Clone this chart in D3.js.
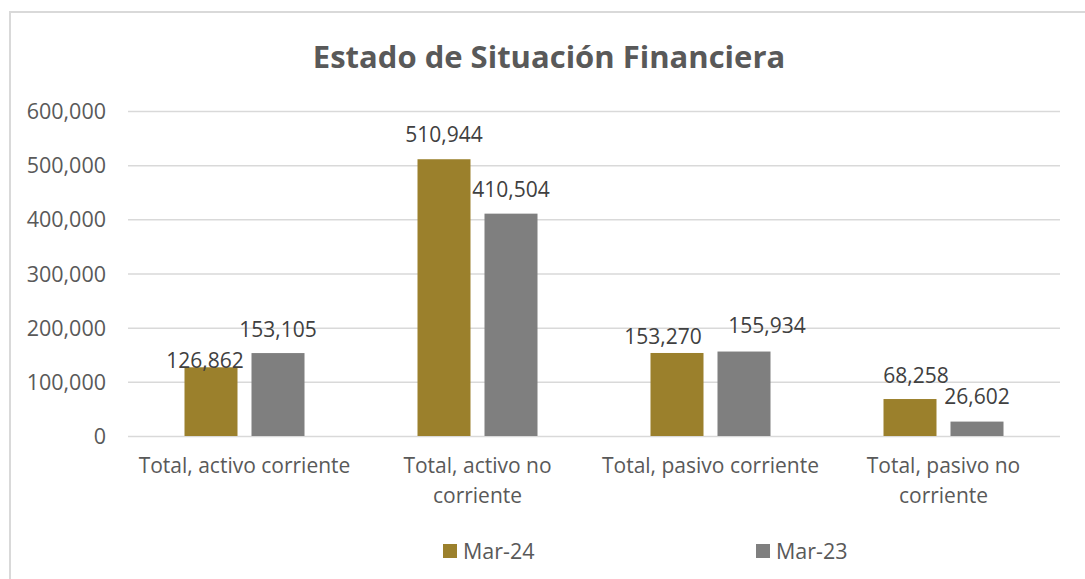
<!DOCTYPE html>
<html>
<head>
<meta charset="utf-8">
<script src="https://cdn.jsdelivr.net/npm/d3@7"></script>
<style>
  html, body { margin: 0; padding: 0; background: #ffffff; }
  svg { display: block; }
</style>
</head>
<body>
<svg id="chart" width="1085" height="579"></svg>
<script>
// ---- data ----
const categories = [
  "Total, activo corriente",
  "Total, activo no corriente",
  "Total, pasivo corriente",
  "Total, pasivo no corriente"
];
const seriesNames = ["Mar-24", "Mar-23"];
const mar24 = [126862, 510944, 153270, 68258];
const mar23 = [153105, 410504, 155934, 26602];
const yTicks = [0, 100000, 200000, 300000, 400000, 500000, 600000];
const chartTitle = "Estado de Situación Financiera";

// ---- styling / layout ----
const colors = ["#9B802C", "#7F7F7F"];
const textColor = "#595959";
const labelColor = "#404040";
const gridColor = "#D9D9D9";
const font = "'Open Sans', 'Liberation Sans', sans-serif";
// label nudges (Excel-style collision placement), [series][category] -> [dx, dy]
const labelNudge = [
  [[-6, 18], [0, 0], [-14, 8], [6, 1]],
  [[0, 1], [0, 0], [23, -2], [0, -1]]
];

const svg = d3.select("#chart");
const plot = { left: 128, right: 1060, top: 111, bottom: 436 };

// border
svg.append("rect")
  .attr("x", 10).attr("y", 12)
  .attr("width", 1100).attr("height", 600)
  .attr("fill", "#ffffff")
  .attr("stroke", gridColor).attr("stroke-width", 2);

const x0 = d3.scaleBand().domain(categories).range([plot.left, plot.right]).padding(0);
const groupW = 120;
const x1 = d3.scaleBand().domain(seriesNames).range([0, groupW]).paddingInner(14 / 67).paddingOuter(0);
const y = d3.scaleLinear().domain([0, 600000]).range([plot.bottom, plot.top]);

// title
svg.append("text")
  .attr("x", 549).attr("y", 68)
  .attr("text-anchor", "middle")
  .attr("font-family", font).attr("font-weight", "bold")
  .attr("font-size", 31).attr("fill", textColor)
  .text(chartTitle);

// y axis
const yAxis = d3.axisLeft(y).tickValues(yTicks).tickSize(-(plot.right - plot.left))
  .tickPadding(22).tickFormat(d3.format(","));
const gy = svg.append("g").attr("transform", `translate(${plot.left},0)`).call(yAxis);
gy.select(".domain").remove();
gy.selectAll(".tick line").attr("stroke", gridColor).attr("stroke-width", 1.5);
gy.selectAll(".tick text")
  .attr("font-family", font).attr("font-size", 21.5).attr("fill", textColor)
  .attr("dy", "0.35em");

// x axis labels
const xAxis = d3.axisBottom(x0).tickSize(0).tickPadding(22);
const gx = svg.append("g").attr("transform", `translate(0,${plot.bottom})`).call(xAxis);
gx.select(".domain").remove();
gx.selectAll(".tick text")
  .attr("font-family", font).attr("font-size", 21).attr("fill", textColor)
  .call(wrap, 225);

function wrap(sel, width) {
  sel.each(function () {
    const t = d3.select(this);
    const words = t.text().split(/\s+/);
    const yy = t.attr("y");
    t.text(null);
    let line = [];
    let lineNo = 0;
    let tspan = t.append("tspan").attr("x", 0).attr("y", yy).attr("dy", "0.71em");
    for (const w of words) {
      line.push(w);
      tspan.text(line.join(" "));
      if (tspan.node().getComputedTextLength() > width && line.length > 1) {
        line.pop();
        tspan.text(line.join(" "));
        line = [w];
        lineNo++;
        tspan = t.append("tspan").attr("x", 0).attr("y", yy)
          .attr("dy", (0.71 + lineNo * 1.43) + "em").text(w);
      }
    }
  });
}

// bars
const seriesData = [mar24, mar23];
const groups = svg.append("g").selectAll("g")
  .data(categories).join("g")
  .attr("transform", d => `translate(${x0(d) + (x0.bandwidth() - groupW) / 2},0)`);

groups.selectAll("rect")
  .data((c, ci) => seriesNames.map((s, si) => ({ s, si, ci, v: seriesData[si][ci] })))
  .join("rect")
  .attr("x", d => x1(d.s))
  .attr("width", x1.bandwidth())
  .attr("y", d => y(d.v))
  .attr("height", d => y(0) - y(d.v))
  .attr("fill", d => colors[d.si]);

groups.selectAll("text.lbl")
  .data((c, ci) => seriesNames.map((s, si) => ({ s, si, ci, v: seriesData[si][ci] })))
  .join("text")
  .attr("class", "lbl")
  .attr("x", d => x1(d.s) + x1.bandwidth() / 2 + labelNudge[d.si][d.ci][0])
  .attr("y", d => y(d.v) - 17 + labelNudge[d.si][d.ci][1])
  .attr("text-anchor", "middle")
  .attr("font-family", font).attr("font-size", 21).attr("fill", labelColor)
  .text(d => d3.format(",")(d.v));

// legend
const legend = svg.append("g").selectAll("g")
  .data(seriesNames).join("g")
  .attr("transform", (d, i) => `translate(${443 + i * 313},544)`);
legend.append("rect").attr("width", 14).attr("height", 14).attr("fill", (d, i) => colors[i]);
legend.append("text")
  .attr("x", 20).attr("y", 7).attr("dy", "0.35em")
  .attr("font-family", font).attr("font-size", 21.5).attr("fill", textColor)
  .text(d => d);
</script>
</body>
</html>
